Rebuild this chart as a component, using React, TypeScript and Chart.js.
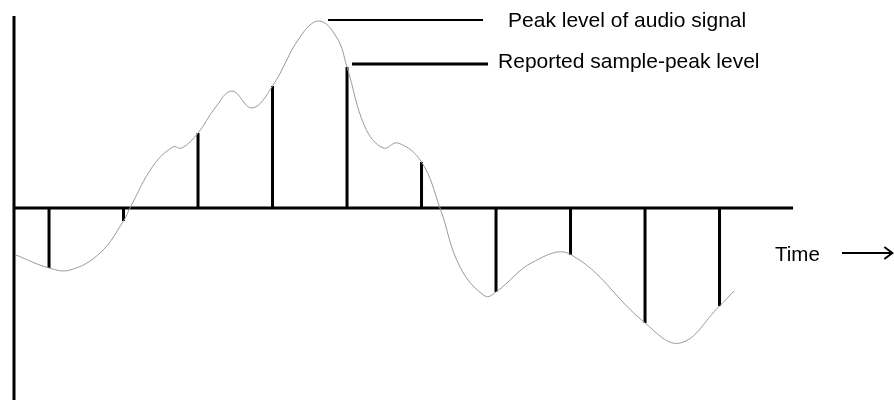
import React, { useEffect, useRef } from "react";
import { Chart, registerables } from "chart.js";

Chart.register(...registerables);

// Sample instants (index of each sample along time)
const sampleTimes = [0, 1, 2, 3, 4, 5, 6, 7, 8, 9];
// Sample amplitudes (relative units, 0 = zero line)
const sampleValues = [-0.3, -0.065, 0.375, 0.61, 0.705, 0.23, -0.42, -0.235, -0.575, -0.49];

// Continuous audio signal (time in sample units, amplitude)
const signalTimes = [
  -0.443, 0, 0.282, 0.685, 1, 1.087, 1.396, 1.664, 1.785, 2, 2.228, 2.456, 2.725, 3,
  3.369, 3.624, 3.866, 4, 4.242, 4.483, 4.685, 5, 5.248, 5.517, 5.852, 6, 6.497,
  7, 8, 8.47, 9, 9.195,
];
const signalValues = [
  -0.235, -0.3, -0.31, -0.225, -0.065, 0, 0.21, 0.305, 0.3, 0.375, 0.5, 0.585, 0.5, 0.61,
  0.855, 0.935, 0.85, 0.705, 0.405, 0.3, 0.325, 0.23, 0, -0.295, -0.44, -0.42, -0.27,
  -0.232, -0.575, -0.675, -0.49, -0.415,
];

const peakLabel = "Peak level of audio signal";
const sampleLabel = "Reported sample-peak level";
const timeLabel = "Time";

const X_MIN = -0.658;
const X_MAX = 11.342;
const Y_MIN = -0.96;
const Y_MAX = 1.04;

export default function App() {
  const ref = useRef<HTMLCanvasElement | null>(null);

  useEffect(() => {
    if (!ref.current) return;

    const stems: { x: number; y: number | null }[] = [];
    sampleTimes.forEach((t, i) => {
      stems.push({ x: t, y: 0 });
      stems.push({ x: t, y: sampleValues[i] });
      stems.push({ x: t, y: null });
    });

    const signal = signalTimes.map((t, i) => ({ x: t, y: signalValues[i] }));

    const textPlugin = {
      id: "texts",
      afterDatasetsDraw(chart: any) {
        const { ctx, scales } = chart;
        const xs = scales.x;
        const ys = scales.y;
        ctx.save();
        ctx.fillStyle = "#000";
        ctx.font = "21px 'Liberation Sans', Arial, sans-serif";
        ctx.textAlign = "left";
        ctx.textBaseline = "alphabetic";
        ctx.fillText(peakLabel, xs.getPixelForValue(6.161), ys.getPixelForValue(0.905));
        ctx.fillText(sampleLabel, xs.getPixelForValue(6.027), ys.getPixelForValue(0.7));
        ctx.font = "20.5px 'Liberation Sans', Arial, sans-serif";
        ctx.fillText(timeLabel, xs.getPixelForValue(9.745), ys.getPixelForValue(-0.265));
        // arrow
        const ay = ys.getPixelForValue(-0.225);
        const ax0 = xs.getPixelForValue(10.644);
        const ax1 = xs.getPixelForValue(11.32);
        ctx.strokeStyle = "#000";
        ctx.lineWidth = 2;
        ctx.beginPath();
        ctx.moveTo(ax0, ay);
        ctx.lineTo(ax1, ay);
        ctx.stroke();
        ctx.beginPath();
        ctx.moveTo(ax1 - 8, ay - 6);
        ctx.lineTo(ax1, ay);
        ctx.lineTo(ax1 - 8, ay + 6);
        ctx.stroke();
        ctx.restore();
      },
    };

    const chart = new Chart(ref.current, {
      type: "line",
      data: {
        datasets: [
          {
            label: "signal",
            data: signal,
            borderColor: "#9a9a9a",
            borderWidth: 1,
            pointRadius: 0,
            tension: 0.4,
            fill: false,
          },
          {
            label: "samples",
            data: stems,
            borderColor: "#000",
            borderWidth: 3,
            borderCapStyle: "butt",
            pointRadius: 0,
            spanGaps: false,
            tension: 0,
            fill: false,
          },
          {
            label: "time axis",
            data: [
              { x: -0.483, y: 0 },
              { x: 9.987, y: 0 },
            ],
            borderColor: "#000",
            borderWidth: 3,
            pointRadius: 0,
            tension: 0,
          },
          {
            label: "level axis",
            data: [
              { x: -0.47, y: 0.96 },
              { x: -0.47, y: -0.97 },
            ],
            borderColor: "#000",
            borderWidth: 3,
            pointRadius: 0,
            tension: 0,
          },
          {
            label: "peak leader",
            data: [
              { x: 3.745, y: 0.94 },
              { x: 5.826, y: 0.94 },
            ],
            borderColor: "#000",
            borderWidth: 2,
            pointRadius: 0,
            tension: 0,
          },
          {
            label: "sample leader",
            data: [
              { x: 4.067, y: 0.72 },
              { x: 5.893, y: 0.72 },
            ],
            borderColor: "#000",
            borderWidth: 3,
            pointRadius: 0,
            tension: 0,
          },
        ],
      },
      options: {
        animation: false,
        responsive: false,
        maintainAspectRatio: false,
        layout: { padding: 0 },
        plugins: {
          legend: { display: false },
          tooltip: { enabled: false },
        },
        scales: {
          x: { type: "linear", min: X_MIN, max: X_MAX, display: false },
          y: { type: "linear", min: Y_MIN, max: Y_MAX, display: false },
        },
      },
      plugins: [textPlugin],
    } as any);

    return () => chart.destroy();
  }, []);

  return (
    <div style={{ position: "fixed", left: 0, top: 0, width: 894, height: 400, background: "#fff" }}>
      <canvas ref={ref} width={894} height={400} style={{ width: 894, height: 400 }} />
    </div>
  );
}
